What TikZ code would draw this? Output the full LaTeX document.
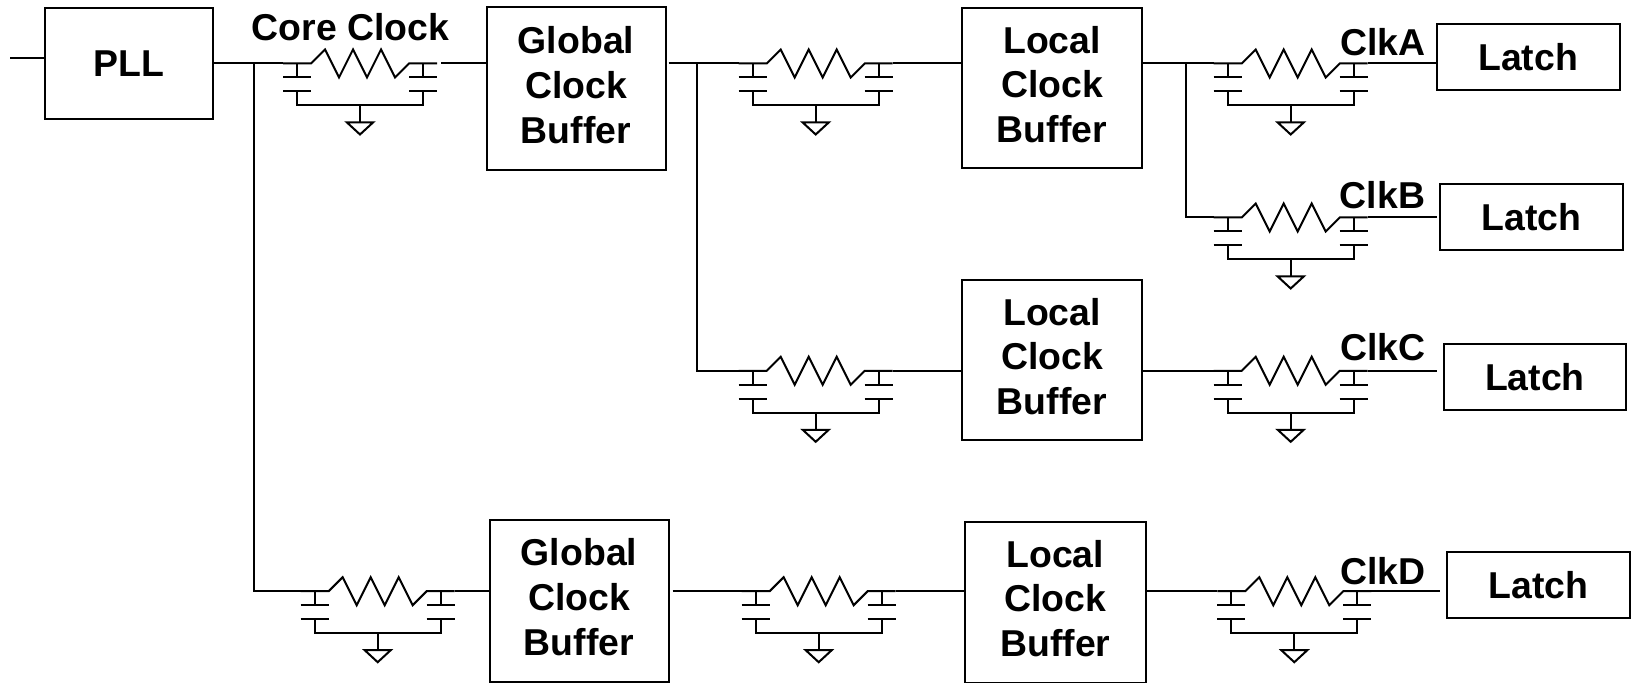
\documentclass[tikz,border=0pt]{standalone}
\usepackage{fontspec}
\setmainfont{Liberation Sans}
\tikzset{
    blockbox/.style={draw, line width=1pt, outer sep=0pt, inner sep=0pt, align=center, text depth=4pt,
        font=\bfseries\fontsize{18.7}{22.3}\selectfont},
    latchbox/.style={blockbox, text depth=0pt},
    clklabel/.style={inner sep=0pt, font=\bfseries\fontsize{18.7}{22.3}\selectfont},
    wire/.style={line width=1pt},
    pics/rcpi/.style={code={
        \coordinate (-in) at (0,0);
        \coordinate (-out) at (154,0);
        \draw[wire](0,0)--(28,0)--(42,-14)--(56,14)--(70,-14)--(84,14)--(98,-14)--(112,14)--(126,0)--(154,0);
        \draw[wire](14,0)--(14,14);
        \draw[wire](0,14)--(28,14);
        \draw[wire](0,28)--(28,28);
        \draw[wire](14,28)--(14,42)--(140,42)--(140,28);
        \draw[wire](126,28)--(154,28);
        \draw[wire](126,14)--(154,14);
        \draw[wire](140,0)--(140,14);
        \draw[wire](77,42)--(77,59);
        \draw[wire](64,59)--(90,59)--(77,71)--cycle;
    }},
}
\begin{document}
\begin{tikzpicture}[x=.5pt, y=-.5pt]
    \useasboundingbox (0,-.5) rectangle (1633,682.5);
    \node[blockbox, text depth=0pt, minimum width=168.3*.5pt, minimum height=111.7*.5pt] (pll) at (129.2,63.15) {PLL};
    \node[blockbox, minimum width=179*.5pt, minimum height=163*.5pt] (gb1) at (576,88.5) {Global\\Clock\\Buffer};
    \node[blockbox, minimum width=179*.5pt, minimum height=162.4*.5pt] (gb2) at (579,600.5) {Global\\Clock\\Buffer};
    \node[blockbox, minimum width=180.6*.5pt, minimum height=160.7*.5pt] (lb1) at (1052,87.65) {Local\\Clock\\Buffer};
    \node[blockbox, minimum width=180.6*.5pt, minimum height=160.7*.5pt] (lb2) at (1052,359.65) {Local\\Clock\\Buffer};
    \node[blockbox, minimum width=180.7*.5pt, minimum height=160.3*.5pt] (lb3) at (1055.3,601.85) {Local\\Clock\\Buffer};
    \node[latchbox, minimum width=182.6*.5pt, minimum height=66.3*.5pt] (la) at (1528.2,56.85) {Latch};
    \node[latchbox, minimum width=182.7*.5pt, minimum height=66.7*.5pt] (lb) at (1531.4,216.65) {Latch};
    \node[latchbox, minimum width=181.7*.5pt, minimum height=66.3*.5pt] (lc) at (1534.9,376.85) {Latch};
    \node[latchbox, minimum width=182.7*.5pt, minimum height=66*.5pt] (ld) at (1538.4,584.7) {Latch};

    \pic (rc1) at (283,63) {rcpi};
    \pic (rc2) at (738.7,63) {rcpi};
    \pic (rc3) at (1213.7,63) {rcpi};
    \pic (rc4) at (1213.7,217) {rcpi};
    \pic (rc5) at (738.7,370.3) {rcpi};
    \pic (rc6) at (1213.7,370.3) {rcpi};
    \pic (rc7) at (300.7,590.7) {rcpi};
    \pic (rc8) at (741.7,590.7) {rcpi};
    \pic (rc9) at (1217.3,590.7) {rcpi};

    \node[clklabel] (core) at (350.6,26.5) {Core Clock};
    \node[clklabel] (clka) at (1383,42) {ClkA};
    \node[clklabel] (clkb) at (1382.4,195) {ClkB};
    \node[clklabel] (clkc) at (1382.6,346.7) {ClkC};
    \node[clklabel] (clkd) at (1382.7,570.7) {ClkD};

    \coordinate (pllin) at (10.3,57.7);
    \coordinate (gb1in) at (441,63);
    \coordinate (gb1out) at (668.6,63);
    \coordinate (gb2out) at (672.7,590.7);
    \coordinate (j1) at (254,63);
    \coordinate (j2) at (696.5,63);
    \coordinate (j3) at (1185.7,63);
    \coordinate (lbin) at (1436.7,217);
    \coordinate (lcin) at (1437,370.3);
    \coordinate (ldin) at (1440.3,590.7);

    \draw[wire](pllin)--(pllin -| pll.west);
    \draw[wire](pll.east |- rc1-in)--(rc1-in);
    \draw[wire](j1)|-(rc7-in);
    \draw[wire](gb1in)--(gb1in -| gb1.west);
    \draw[wire](gb1out)--(rc2-in);
    \draw[wire](j2)|-(rc5-in);
    \draw[wire](rc2-out)--(rc2-out -| lb1.west);
    \draw[wire](rc5-out)--(rc5-out -| lb2.west);
    \draw[wire](lb1.east |- rc3-in)--(rc3-in);
    \draw[wire](j3)|-(rc4-in);
    \draw[wire](lb2.east |- rc6-in)--(rc6-in);
    \draw[wire](rc3-out)--(rc3-out -| la.west);
    \draw[wire](rc4-out)--(lbin);
    \draw[wire](rc6-out)--(lcin);
    \draw[wire](rc7-out)--(rc7-out -| gb2.west);
    \draw[wire](gb2out)--(rc8-in);
    \draw[wire](rc8-out)--(rc8-out -| lb3.west);
    \draw[wire](lb3.east |- rc9-in)--(rc9-in);
    \draw[wire](rc9-out)--(ldin);
\end{tikzpicture}
\end{document}
